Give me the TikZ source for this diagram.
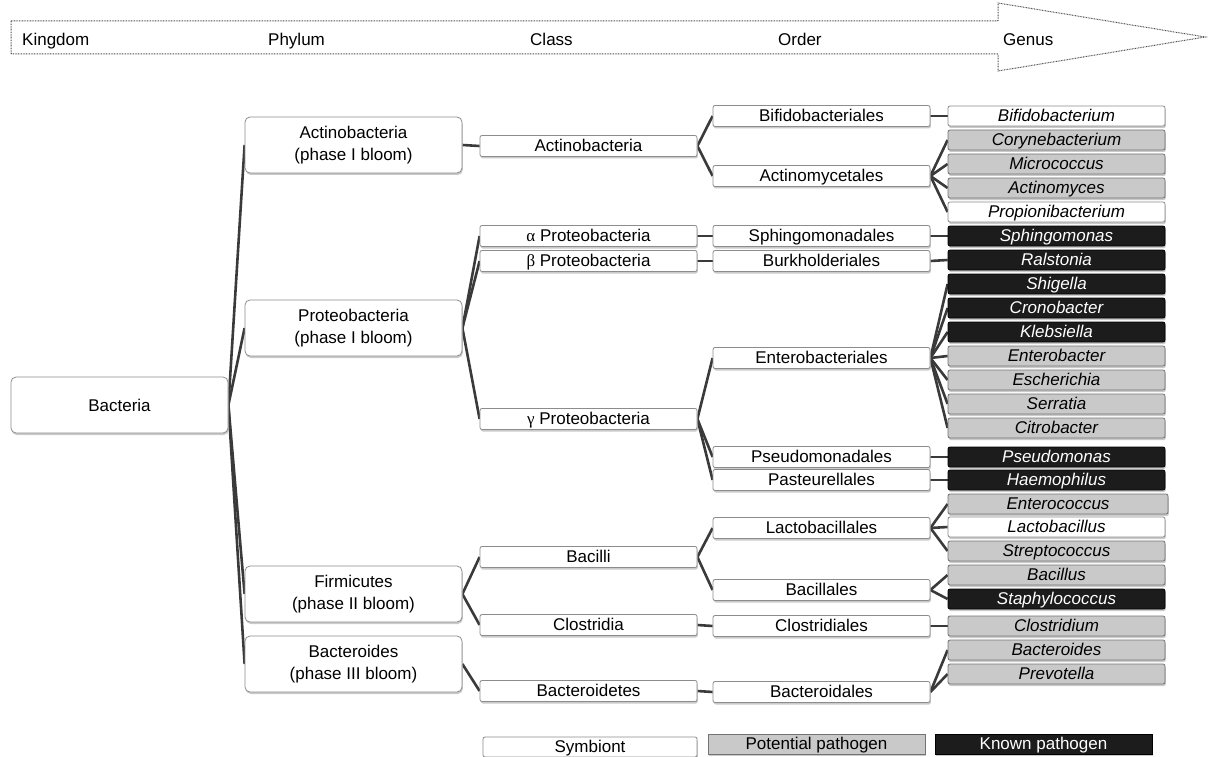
\documentclass[tikz,border=0pt]{standalone}
\usepackage{fontspec}
\setmainfont{Liberation Sans}
\newfontfamily\grk{Liberation Serif}
\usetikzlibrary{shadows,backgrounds}
\definecolor{conncol}{HTML}{3A3A3A}
\definecolor{potcol}{HTML}{C9C9C9}
\definecolor{knocol}{HTML}{1C1C1C}
\tikzset{
  basebox/.style={draw=black!45, line width=0.8pt, rounded corners=2pt, fill=white, inner sep=0pt,
    minimum width=217pt, align=center, font=\fontsize{17}{22}\selectfont,
    drop shadow={shadow xshift=0.8pt, shadow yshift=-2pt, fill=black!35, opacity=0.6}},
  box/.style={basebox, minimum height=21pt, text height=13.5pt, text depth=2.5pt},
  phy/.style={basebox, rounded corners=5pt, minimum height=56pt},
  gen/.style={box, font=\fontsize{17}{22}\selectfont\itshape, minimum height=20pt},
  pot/.style={fill=potcol, draw=black!55},
  kno/.style={fill=knocol, draw=black, text=white},
  conn/.style={draw=conncol, line width=2.6pt},
  rank/.style={anchor=west, inner sep=0pt, text height=12.5pt, text depth=3.5pt},
}
\begin{document}
\begin{tikzpicture}[x=1pt, y=-1pt, font=\fontsize{17}{22}\selectfont]
\useasboundingbox (0,0) rectangle (1208,757);
% top arrow
\draw[black!70, line width=1pt, dash pattern=on 0.8pt off 0.8pt]
  (11,21) -- (998,21) -- (998,3) -- (1205,37) -- (998,71) -- (998,54) -- (11,54) -- cycle;
\node[rank] (rk) at (22,41) {Kingdom};
\node[rank] (rp) at (268,41) {Phylum};
\node[rank] (rc) at (530,41) {Class};
\node[rank] (ro) at (778,41) {Order};
\node[rank] (rg) at (1003,41) {Genus};

% kingdom
\node[phy] (bact) at (119.5,405) {Bacteria};
% phylum
\node[phy] (actP) at (353.5,145) {Actinobacteria\\(phase I bloom)};
\node[phy] (proP) at (353.5,328) {Proteobacteria\\(phase I bloom)};
\node[phy] (firP) at (353.5,594) {Firmicutes\\(phase II bloom)};
\node[phy] (bacP) at (353.5,664) {Bacteroides\\(phase III bloom)};
% class
\node[box] (actC) at (588.5,146) {Actinobacteria};
\node[box] (alpC) at (588.5,236) {{\grk α} Proteobacteria};
\node[box] (betC) at (588.5,261) {{\grk β} Proteobacteria};
\node[box] (gamC) at (588.5,419) {{\grk γ} Proteobacteria};
\node[box] (bacC) at (588.5,557) {Bacilli};
\node[box] (cloC) at (588.5,625) {Clostridia};
\node[box] (bdsC) at (588.5,691) {Bacteroidetes};
% order
\node[box] (bifO) at (821.5,116) {Bifidobacteriales};
\node[box] (actO) at (821.5,176) {Actinomycetales};
\node[box] (sphO) at (821.5,236) {Sphingomonadales};
\node[box] (burO) at (821.5,261) {Burkholderiales};
\node[box] (entO) at (821.5,358) {Enterobacteriales};
\node[box] (pseO) at (821.5,457) {Pseudomonadales};
\node[box] (pasO) at (821.5,480) {Pasteurellales};
\node[box] (lacO) at (821.5,528) {Lactobacillales};
\node[box] (bclO) at (821.5,590) {Bacillales};
\node[box] (cloO) at (821.5,626) {Clostridiales};
\node[box] (bdlO) at (821.5,692) {Bacteroidales};
% genus
\node[gen] (g1) at (1056.5,116) {Bifidobacterium};
\node[gen,pot] (g2) at (1056.5,140) {Corynebacterium};
\node[gen,pot] (g3) at (1056.5,164) {Micrococcus};
\node[gen,pot] (g4) at (1056.5,188) {Actinomyces};
\node[gen] (g5) at (1056.5,212) {Propionibacterium};
\node[gen,kno] (g6) at (1056.5,236) {Sphingomonas};
\node[gen,kno] (g7) at (1056.5,260) {Ralstonia};
\node[gen,kno] (g8) at (1056.5,284) {Shigella};
\node[gen,kno] (g9) at (1056.5,308) {Cronobacter};
\node[gen,kno] (g10) at (1056.5,332) {Klebsiella};
\node[gen,pot] (g11) at (1056.5,356) {Enterobacter};
\node[gen,pot] (g12) at (1056.5,380) {Escherichia};
\node[gen,pot] (g13) at (1056.5,404) {Serratia};
\node[gen,pot] (g14) at (1056.5,428) {Citrobacter};
\node[gen,kno] (g15) at (1056.5,457) {Pseudomonas};
\node[gen,kno] (g16) at (1056.5,480) {Haemophilus};
\node[gen,pot,minimum width=220pt] (g17) at (1058,504) {Enterococcus};
\node[gen] (g18) at (1056.5,527) {Lactobacillus};
\node[gen,pot] (g19) at (1056.5,551) {Streptococcus};
\node[gen,pot] (g20) at (1056.5,575) {Bacillus};
\node[gen,kno] (g21) at (1056.5,599) {Staphylococcus};
\node[gen,pot] (g22) at (1056.5,626) {Clostridium};
\node[gen,pot] (g23) at (1056.5,650) {Bacteroides};
\node[gen,pot] (g24) at (1056.5,674) {Prevotella};
% legend
\node[box, minimum width=214pt, minimum height=20pt] (lg1) at (590,747) {Symbiont};
\node[box, pot, rounded corners=0pt, minimum height=20pt] (lg2) at (816.5,744) {Potential pathogen};
\node[box, kno, rounded corners=0pt, minimum height=20pt] (lg3) at (1043.5,744) {Known pathogen};

\begin{scope}[on background layer]
\draw[conn] (bact.east) -- (actP.west);
\draw[conn] (bact.east) -- (proP.west);
\draw[conn] (bact.east) -- (firP.west);
\draw[conn] (bact.east) -- (bacP.west);
\draw[conn] (actP.east) -- (actC.west);
\draw[conn] (proP.east) -- (alpC.west);
\draw[conn] (proP.east) -- (betC.west);
\draw[conn] (proP.east) -- (gamC.west);
\draw[conn] (firP.east) -- (bacC.west);
\draw[conn] (firP.east) -- (cloC.west);
\draw[conn] (bacP.east) -- (bdsC.west);
\draw[conn] (actC.east) -- (bifO.west);
\draw[conn] (actC.east) -- (actO.west);
\draw[conn] (alpC.east) -- (sphO.west);
\draw[conn] (betC.east) -- (burO.west);
\draw[conn] (gamC.east) -- (entO.west);
\draw[conn] (gamC.east) -- (pseO.west);
\draw[conn] (gamC.east) -- (pasO.west);
\draw[conn] (bacC.east) -- (lacO.west);
\draw[conn] (bacC.east) -- (bclO.west);
\draw[conn] (cloC.east) -- (cloO.west);
\draw[conn] (bdsC.east) -- (bdlO.west);
\draw[conn] (bifO.east) -- (g1.west);
\foreach \g in {g2,g3,g4,g5} \draw[conn] (actO.east) -- (\g.west);
\draw[conn] (sphO.east) -- (g6.west);
\draw[conn] (burO.east) -- (g7.west);
\foreach \g in {g8,g9,g10,g11,g12,g13,g14} \draw[conn] (entO.east) -- (\g.west);
\draw[conn] (pseO.east) -- (g15.west);
\draw[conn] (pasO.east) -- (g16.west);
\foreach \g in {g17,g18,g19} \draw[conn] (lacO.east) -- (\g.west);
\foreach \g in {g20,g21} \draw[conn] (bclO.east) -- (\g.west);
\draw[conn] (cloO.east) -- (g22.west);
\foreach \g in {g23,g24} \draw[conn] (bdlO.east) -- (\g.west);
\end{scope}
\end{tikzpicture}
\end{document}
